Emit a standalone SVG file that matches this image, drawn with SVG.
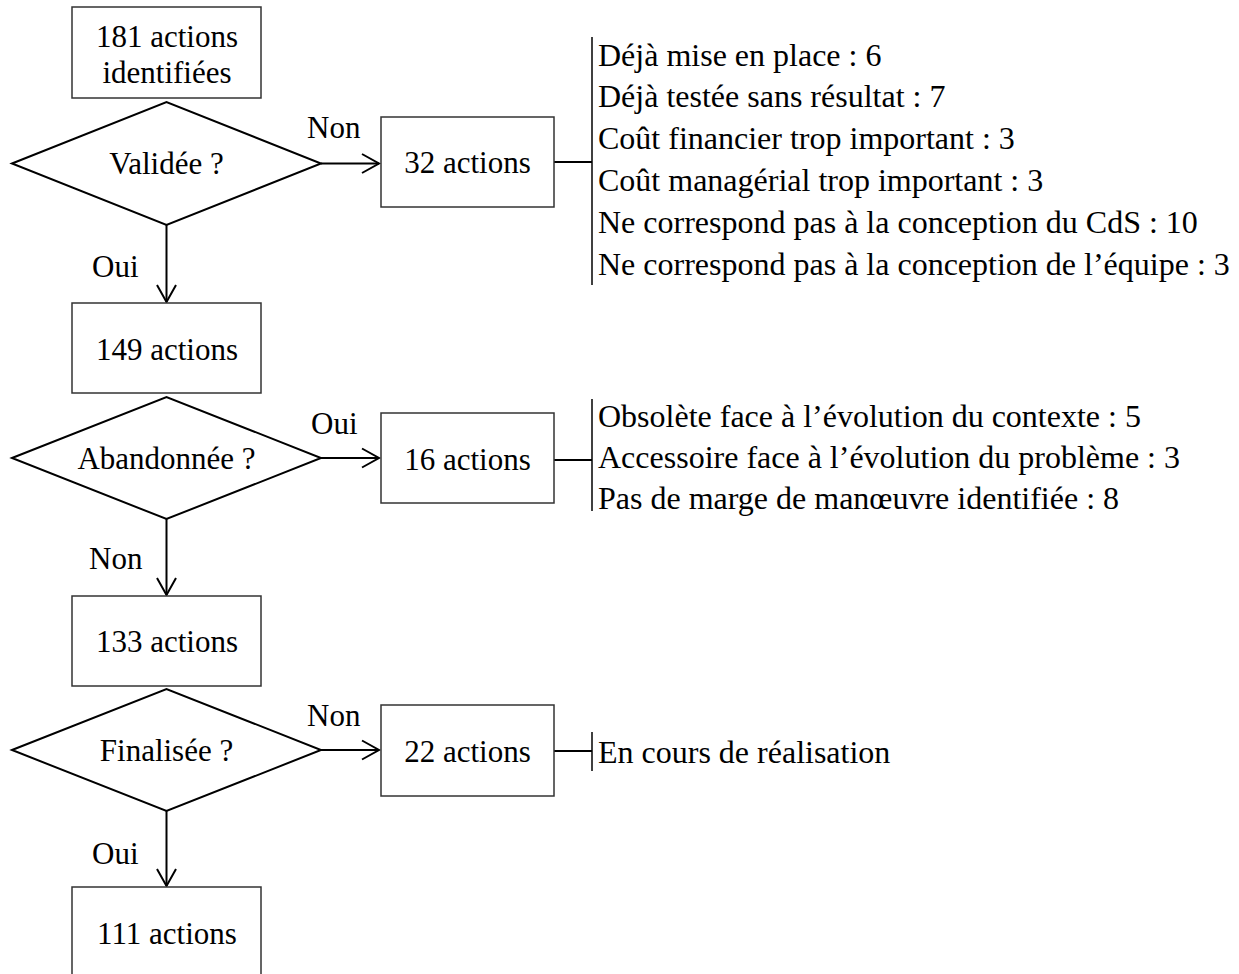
<svg xmlns="http://www.w3.org/2000/svg" width="1239" height="974" viewBox="0 0 1239 974">
  <style>
    .box { fill: #ffffff; stroke: #333333; stroke-width: 1.5; }
    .dia { fill: #ffffff; stroke: #000000; stroke-width: 2; }
    .ln { fill: none; stroke: #000000; stroke-width: 2; }
    .bar { fill: none; stroke: #000000; stroke-width: 1.5; }
    text { font-family: "Liberation Serif", "Times New Roman", serif; fill: #000000; }
    .c { font-size: 31px; text-anchor: middle; }
    .lbl { font-size: 31px; }
    .lst { font-size: 32px; }
  </style>
  <defs>
    <marker id="arr" viewBox="-20 -12 24 24" refX="0" refY="0" markerWidth="24" markerHeight="24" markerUnits="userSpaceOnUse" orient="auto">
      <path d="M -17 -9.5 L 0 0 L -17 9.5" fill="none" stroke="#000000" stroke-width="2"/>
    </marker>
  </defs>
  <rect width="1239" height="974" fill="#ffffff"/>

  <g id="connectors">
    <line class="ln" x1="321" y1="163.5" x2="379" y2="163.5" marker-end="url(#arr)"/>
    <line class="ln" x1="166.5" y1="225" x2="166.5" y2="302" marker-end="url(#arr)"/>
    <line class="ln" x1="321" y1="458" x2="379" y2="458" marker-end="url(#arr)"/>
    <line class="ln" x1="166.5" y1="519" x2="166.5" y2="595" marker-end="url(#arr)"/>
    <line class="ln" x1="321" y1="750" x2="379" y2="750" marker-end="url(#arr)"/>
    <line class="ln" x1="166.5" y1="811" x2="166.5" y2="886" marker-end="url(#arr)"/>
    <line class="ln" x1="554" y1="162" x2="592" y2="162"/>
    <line class="ln" x1="554" y1="460" x2="592" y2="460"/>
    <line class="ln" x1="554" y1="751" x2="592" y2="751"/>
    <line class="bar" x1="592" y1="37" x2="592" y2="285"/>
    <line class="bar" x1="592" y1="399" x2="592" y2="511"/>
    <line class="bar" x1="592" y1="732" x2="592" y2="771"/>
    <text class="lbl" x="307" y="138">Non</text>
    <text class="lbl" x="92" y="277">Oui</text>
    <text class="lbl" x="311" y="434">Oui</text>
    <text class="lbl" x="89" y="569">Non</text>
    <text class="lbl" x="307" y="726">Non</text>
    <text class="lbl" x="92" y="864">Oui</text>
  </g>

  <g id="n-start">
    <rect class="box" x="72" y="7" width="189" height="91"/>
    <text class="c" x="167" y="47">181 actions</text>
    <text class="c" x="167" y="83">identifiées</text>
  </g>
  <g id="d-validee">
    <polygon class="dia" points="12,163.5 166.5,102 321,163.5 166.5,225"/>
    <text class="c" x="166.5" y="174">Validée ?</text>
  </g>
  <g id="n-32">
    <rect class="box" x="381" y="117" width="173" height="90"/>
    <text class="c" x="467.5" y="173">32 actions</text>
  </g>
  <g id="l-32">
    <text class="lst" x="598" y="66">Déjà mise en place : 6</text>
    <text class="lst" x="598" y="107">Déjà testée sans résultat : 7</text>
    <text class="lst" x="598" y="149">Coût financier trop important : 3</text>
    <text class="lst" x="598" y="191">Coût managérial trop important : 3</text>
    <text class="lst" x="598" y="233">Ne correspond pas à la conception du CdS : 10</text>
    <text class="lst" x="598" y="275">Ne correspond pas à la conception de l’équipe : 3</text>
  </g>
  <g id="n-149">
    <rect class="box" x="72" y="303" width="189" height="90"/>
    <text class="c" x="167" y="360">149 actions</text>
  </g>
  <g id="d-abandonnee">
    <polygon class="dia" points="12,458 166.5,397 321,458 166.5,519"/>
    <text class="c" x="166.5" y="469">Abandonnée ?</text>
  </g>
  <g id="n-16">
    <rect class="box" x="381" y="413" width="173" height="90"/>
    <text class="c" x="467.5" y="470">16 actions</text>
  </g>
  <g id="l-16">
    <text class="lst" x="598" y="427">Obsolète face à l’évolution du contexte : 5</text>
    <text class="lst" x="598" y="468">Accessoire face à l’évolution du problème : 3</text>
    <text class="lst" x="598" y="509">Pas de marge de manœuvre identifiée : 8</text>
  </g>
  <g id="n-133">
    <rect class="box" x="72" y="596" width="189" height="90"/>
    <text class="c" x="167" y="652">133 actions</text>
  </g>
  <g id="d-finalisee">
    <polygon class="dia" points="12,750 166.5,689 321,750 166.5,811"/>
    <text class="c" x="166.5" y="761">Finalisée ?</text>
  </g>
  <g id="n-22">
    <rect class="box" x="381" y="705" width="173" height="91"/>
    <text class="c" x="467.5" y="762">22 actions</text>
  </g>
  <g id="l-22">
    <text class="lst" x="598" y="763">En cours de réalisation</text>
  </g>
  <g id="n-111">
    <rect class="box" x="72" y="887" width="189" height="92"/>
    <text class="c" x="167" y="944">111 actions</text>
  </g>
</svg>
